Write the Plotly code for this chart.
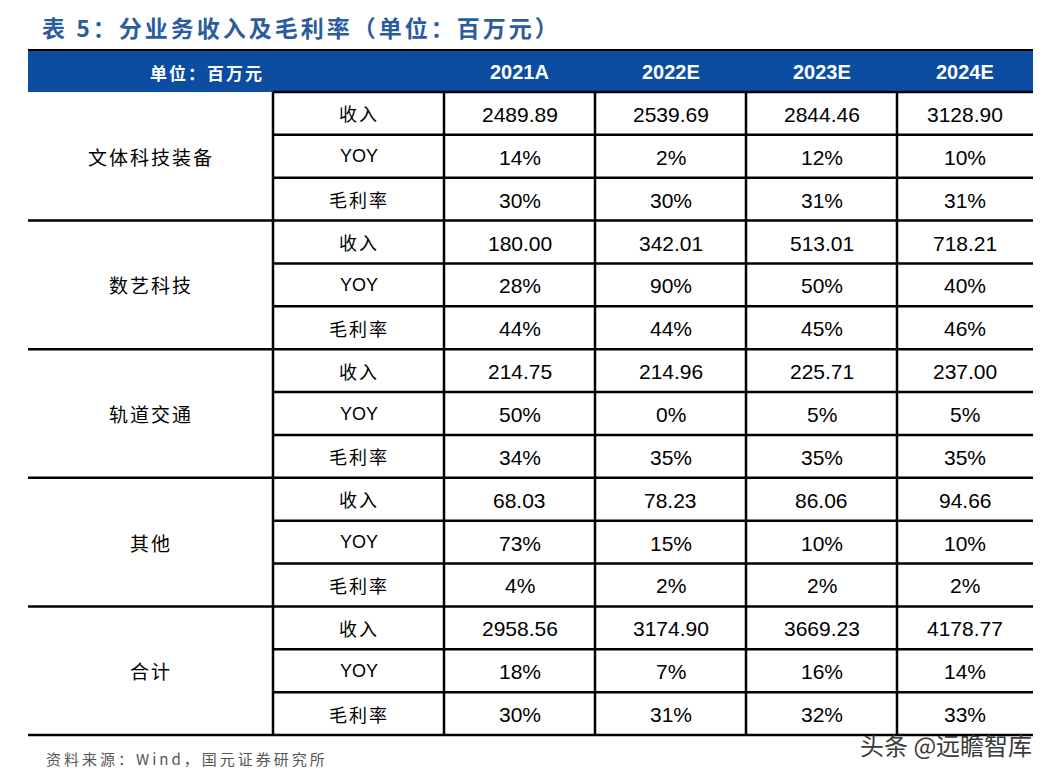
import plotly.graph_objects as go

# ---------------- data ----------------
title_text = "表 5：分业务收入及毛利率（单位：百万元）"
unit_label = "单位：百万元"
years = ["2021A", "2022E", "2023E", "2024E"]
groups = ["文体科技装备", "数艺科技", "轨道交通", "其他", "合计"]
metrics = ["收入", "YOY", "毛利率"]

revenue = [
    ["2489.89", "2539.69", "2844.46", "3128.90"],
    ["180.00", "342.01", "513.01", "718.21"],
    ["214.75", "214.96", "225.71", "237.00"],
    ["68.03", "78.23", "86.06", "94.66"],
    ["2958.56", "3174.90", "3669.23", "4178.77"],
]
yoy = [
    ["14%", "2%", "12%", "10%"],
    ["28%", "90%", "50%", "40%"],
    ["50%", "0%", "5%", "5%"],
    ["73%", "15%", "10%", "10%"],
    ["18%", "7%", "16%", "14%"],
]
gross_margin = [
    ["30%", "30%", "31%", "31%"],
    ["44%", "44%", "45%", "46%"],
    ["34%", "35%", "35%", "35%"],
    ["4%", "2%", "2%", "2%"],
    ["30%", "31%", "32%", "33%"],
]
source_text = "资料来源：Wind，国元证券研究所"
watermark = "头条 @远瞻智库"

# ---------------- layout geometry ----------------
W, H = 1054, 777
OFF = 8  # page body margin
col_edges = [28, 273, 444, 595, 746, 897, 1033]
head_top, head_bot = 50, 92
row_h = (735 - 92) / 15.0
blue = "#0C4DA2"
cjk = "Noto Sans CJK SC"
latin = "Liberation Sans, Arial, sans-serif"


def spaced(t, px):
    return "<span style='letter-spacing:%dpx'>%s</span>" % (px, t)


fig = go.Figure()
shapes = []
annotations = []

# header band
shapes.append(dict(type="rect", xref="x", yref="y", x0=col_edges[0], x1=col_edges[-1],
                   y0=head_top, y1=head_bot, fillcolor=blue, line=dict(width=0), layer="below"))
shapes.append(dict(type="line", xref="x", yref="y", x0=col_edges[0], x1=col_edges[-1],
                   y0=head_top, y1=head_top, line=dict(color="black", width=2)))


def cx(i):
    return (col_edges[i] + col_edges[i + 1]) / 2


annotations.append(dict(x=207, y=(head_top + head_bot) / 2 + 1,
                        text="<b>" + spaced(unit_label, 2) + "</b>", showarrow=False,
                        font=dict(family=cjk, size=17, color="white")))
for j, yr in enumerate(years):
    annotations.append(dict(x=cx(2 + j), y=(head_top + head_bot) / 2 + 1, text="<b>" + yr + "</b>",
                            showarrow=False, font=dict(family=latin, size=20, color="white")))

# table lines
line_style = dict(color="black", width=2.5)
table_bot = head_bot + 15 * row_h
for k in range(1, 6):
    shapes.append(dict(type="line", xref="x", yref="y", x0=col_edges[k], x1=col_edges[k],
                       y0=head_bot, y1=table_bot, line=line_style))
for r in range(16):
    y = head_bot + r * row_h
    x0 = col_edges[0] if (r % 3 == 0 and r > 0) else col_edges[1]
    shapes.append(dict(type="line", xref="x", yref="y", x0=x0, x1=col_edges[-1],
                       y0=y, y1=y, line=line_style))

# cell text
all_vals = [revenue, yoy, gross_margin]
for g, gname in enumerate(groups):
    gy = head_bot + (3 * g + 1.5) * row_h
    annotations.append(dict(x=cx(0), y=gy, text=spaced(gname, 2), showarrow=False,
                            font=dict(family=cjk, size=19, color="black")))
    for m, mname in enumerate(metrics):
        ry = head_bot + (3 * g + m + 0.5) * row_h
        if m == 1:
            txt, fam = mname, latin
        else:
            txt, fam = spaced(mname, 2), cjk
        annotations.append(dict(x=cx(1), y=ry, text=txt, showarrow=False,
                                font=dict(family=fam, size=18, color="black")))
        for j in range(4):
            annotations.append(dict(x=cx(2 + j), y=ry + 1, text=all_vals[m][g][j], showarrow=False,
                                    font=dict(family=latin, size=21, color="black")))

# title, source, watermark
annotations.append(dict(x=40, y=27, xanchor="left", text="<b>" + spaced(title_text, 3) + "</b>",
                        showarrow=False, font=dict(family=cjk, size=23, color="#2B5C9E")))
annotations.append(dict(x=44, y=758, xanchor="left", text=spaced(source_text, 3), showarrow=False,
                        font=dict(family=cjk, size=15, color="#555555")))
annotations.append(dict(x=1034, y=744, xanchor="right", text=watermark, showarrow=False,
                        font=dict(family=cjk, size=24, color="#3a3a3a")))

fig.update_layout(
    width=W, height=H, margin=dict(l=0, r=0, t=0, b=0),
    paper_bgcolor="white", plot_bgcolor="white",
    xaxis=dict(range=[OFF, W + OFF], visible=False, fixedrange=True),
    yaxis=dict(range=[H + OFF, OFF], visible=False, fixedrange=True),
    shapes=shapes, annotations=annotations, showlegend=False,
)
fig.write_html("out.html")
